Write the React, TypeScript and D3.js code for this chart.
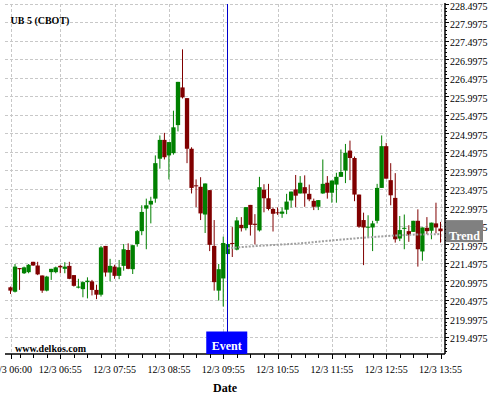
import React from "react";
import * as d3 from "d3";

const title = "UB 5 (CBOT)";
const watermark = "www.delkos.com";
const xAxisTitle = "Date";
const eventLabel = "Event";
const trendLabel = "Trend";

const startTime = "2023-12-03T06:00:00";
const stepMinutes = 5;
const eventTime = "2023-12-03T10:00:00";

const opens = [
  220.83, 220.71, 221.35, 221.21, 221.24, 221.52, 221.42, 221.15, 220.74, 221.24,
  221.24, 221.41, 221.33, 221.41, 221.16, 220.82, 220.78, 220.97, 220.99, 220.76,
  220.63, 221.95, 221.23, 221.39, 221.14, 221.41, 221.84, 221.32, 222.0, 222.35,
  222.96, 223.07, 223.23, 224.31, 224.82, 224.4, 224.46, 225.22, 226.24, 225.95,
  224.58, 223.59, 223.55, 222.8, 223.46, 221.95, 220.74, 221.07, 221.73, 222.03,
  221.85, 222.52, 222.43, 223.06, 222.55, 222.37, 223.47, 223.24, 222.95, 222.86,
  222.82, 222.93, 223.18, 223.48, 223.37, 223.54, 223.36, 223.17, 223.01, 223.37,
  223.66, 223.39, 223.61, 223.82, 223.99, 224.53, 224.33, 223.34, 222.65, 222.45,
  222.45, 222.63, 223.52, 224.65, 223.73, 223.25, 222.15, 222.42, 222.35, 222.33,
  222.63, 221.8, 222.44, 222.36, 222.56, 222.42,
];
const highs = [
  220.85, 221.46, 221.35, 221.39, 221.46, 221.52, 221.52, 221.15, 221.14, 221.33,
  221.39, 221.43, 221.51, 221.52, 221.16, 221.06, 220.99, 221.1, 221.03, 220.9,
  221.95, 221.95, 221.6, 221.44, 221.57, 222.0, 222.02, 221.97, 222.38, 223.05,
  223.23, 223.28, 224.4, 224.94, 225.01, 224.76, 225.61, 226.39, 227.27, 225.95,
  224.62, 223.75, 223.81, 223.64, 223.46, 222.65, 221.46, 222.2, 222.01, 222.46,
  222.73, 222.73, 223.0, 223.06, 222.81, 223.82, 223.62, 223.63, 222.99, 222.99,
  222.99, 223.36, 223.42, 223.87, 223.84, 223.86, 223.61, 223.23, 223.19, 224.29,
  223.84, 223.72, 223.93, 224.56, 224.71, 224.8, 224.37, 223.34, 222.85, 222.78,
  222.63, 223.63, 224.94, 224.74, 224.19, 223.92, 222.76, 222.8, 222.51, 222.63,
  222.94, 222.45, 222.73, 222.58, 223.12, 222.6,
];
const lows = [
  220.65, 220.69, 220.76, 221.19, 221.21, 221.41, 221.16, 220.68, 220.72, 221.03,
  221.21, 221.21, 221.21, 221.05, 220.85, 220.8, 220.56, 220.53, 220.61, 220.51,
  220.58, 221.12, 220.99, 221.06, 221.05, 221.28, 221.32, 221.19, 221.93, 222.24,
  221.86, 222.56, 223.12, 224.04, 224.29, 223.75, 224.42, 225.05, 225.94, 224.19,
  223.37, 223.0, 222.65, 222.3, 221.81, 220.74, 220.47, 220.31, 221.73, 221.65,
  221.83, 222.34, 222.37, 222.23, 221.99, 222.34, 222.86, 222.91, 222.34, 222.79,
  222.71, 222.81, 222.99, 223.0, 223.37, 223.01, 223.16, 222.92, 222.92, 223.36,
  223.23, 223.12, 223.12, 223.82, 223.65, 223.73, 223.16, 222.44, 221.43, 222.18,
  221.81, 222.56, 223.52, 223.77, 223.05, 222.04, 222.08, 221.86, 222.06, 222.33,
  221.39, 221.55, 222.27, 222.13, 222.29, 222.04,
];
const closes = [
  220.74, 221.39, 221.32, 221.37, 221.44, 221.42, 221.18, 220.74, 221.12, 221.33,
  221.37, 221.37, 221.39, 221.06, 220.87, 220.85, 220.97, 221.01, 220.76, 220.63,
  221.91, 221.23, 221.41, 221.14, 221.37, 221.86, 221.33, 221.97, 222.35, 222.87,
  223.05, 223.17, 224.19, 224.82, 224.35, 224.76, 225.16, 226.39, 225.97, 224.58,
  223.52, 223.57, 222.83, 223.64, 221.98, 220.97, 221.32, 222.03, 222.0, 222.01,
  222.64, 222.43, 223.0, 222.52, 222.52, 223.54, 223.24, 222.95, 222.82, 222.84,
  222.88, 223.15, 223.42, 223.31, 223.66, 223.37, 223.21, 223.01, 223.19, 223.63,
  223.39, 223.72, 223.82, 223.95, 224.47, 224.33, 223.34, 222.47, 222.45, 222.47,
  222.56, 223.52, 224.65, 223.77, 223.32, 222.13, 222.38, 222.44, 222.25, 222.63,
  221.86, 222.45, 222.35, 222.58, 222.45, 222.35,
];

const trendIndices = [48, 56, 64, 72, 80, 88, 95];
const trendValues = [221.89, 221.96, 222.02, 222.11, 222.19, 222.25, 222.27];

const yTickValues = [
  219.4975, 219.9975, 220.4975, 220.9975, 221.4975, 221.9975, 222.4975, 222.9975,
  223.4975, 223.9975, 224.4975, 224.9975, 225.4975, 225.9975, 226.4975, 226.9975,
  227.4975, 227.9975, 228.4975,
];
const xTickLabels = [
  "12/3 06:00", "12/3 06:55", "12/3 07:55", "12/3 08:55", "12/3 09:55",
  "12/3 10:55", "12/3 11:55", "12/3 12:55", "12/3 13:55",
];
const xTickTimes = [
  "2023-12-03T06:00:00", "2023-12-03T06:55:00", "2023-12-03T07:55:00",
  "2023-12-03T08:55:00", "2023-12-03T09:55:00", "2023-12-03T10:55:00",
  "2023-12-03T11:55:00", "2023-12-03T12:55:00", "2023-12-03T13:55:00",
];

const W = 500;
const H = 400;
const plotLeft = 5;
const plotRight = 445;
const plotTop = 4;
const plotBottom = 354;
const FONT = "'Liberation Serif', 'Times New Roman', serif";
const UP = "#008000";
const DOWN = "#800000";
const crisp = (v: number) => Math.round(v) + 0.5;

export default function App() {
  const start = new Date(startTime);
  const times = opens.map((_, i) => d3.timeMinute.offset(start, i * stepMinutes));
  const x = d3
    .scaleTime()
    .domain([times[0], times[times.length - 1]])
    .range([10.5, 440.5]);
  const y = d3.scaleLinear().domain([219.025, 228.4975]).range([plotBottom, plotTop]);

  const bw = 4.3;
  const minorY = d3.range(219.0975, 228.4975, 0.1);
  const minorX = d3
    .range(0, opens.length)
    .filter((i) => i % 3 === 2)
    .map((i) => times[i]);

  const trendLine = d3
    .line<number>()
    .x((_, k) => x(times[trendIndices[k]]))
    .y((v) => y(v))
    .curve(d3.curveMonotoneX);

  const ev = x(new Date(eventTime));
  const evX = crisp(ev - 0.5);
  const lastTrendY = y(trendValues[trendValues.length - 1]);

  return (
    <svg width={W} height={H} style={{ display: "block", position: "absolute", left: 0, top: 0 }} fontFamily={FONT}>
      <rect x={0} y={0} width={W} height={H} fill="#fff" />
      {/* grid */}
      {yTickValues.map((v) => (
        <line key={"gy" + v} x1={plotLeft} x2={plotRight} y1={crisp(y(v))} y2={crisp(y(v))} stroke="#c8c8c8" strokeDasharray="3,2" />
      ))}
      {xTickTimes.map((t) => (
        <line key={"gx" + t} x1={crisp(x(new Date(t)))} x2={crisp(x(new Date(t)))} y1={plotTop} y2={plotBottom} stroke="#c8c8c8" strokeDasharray="3,2" />
      ))}
      {/* candles */}
      {opens.map((o, i) => {
        const c = closes[i];
        const col = c >= o ? UP : DOWN;
        const cx = x(times[i]);
        const top = y(Math.max(o, c));
        const bot = y(Math.min(o, c));
        return (
          <g key={"c" + i}>
            <line x1={cx} x2={cx} y1={y(highs[i])} y2={y(lows[i])} stroke={col} strokeWidth={1} />
            <rect x={cx - bw / 2} y={top} width={bw} height={Math.max(1, bot - top)} fill={col} />
          </g>
        );
      })}
      {/* trend */}
      <path d={trendLine(trendValues) || ""} fill="none" stroke="#a0a0a0" strokeWidth={2} strokeDasharray="2,1.5" />
      {/* axes */}
      <line x1={plotRight} x2={plotRight} y1={plotTop - 1} y2={plotBottom} stroke="#000" strokeWidth={1.5} />
      <line x1={plotLeft} x2={plotRight} y1={plotBottom} y2={plotBottom} stroke="#000" strokeWidth={1.5} />
      {minorY.map((v) => (
        <line key={"my" + v} x1={plotRight} x2={plotRight + 2} y1={crisp(y(v))} y2={crisp(y(v))} stroke="#000" />
      ))}
      {yTickValues.map((v) => (
        <g key={"ty" + v}>
          <line x1={plotRight} x2={plotRight + 4} y1={crisp(y(v))} y2={crisp(y(v))} stroke="#000" />
          <text x={plotRight + 5} y={y(v) + 5.5} fontSize={10} fill="#000">
            {v.toFixed(4)}
          </text>
        </g>
      ))}
      {minorX.map((t, i) => (
        <line key={"mx" + i} x1={crisp(x(t))} x2={crisp(x(t))} y1={plotBottom} y2={plotBottom + 4} stroke="#000" />
      ))}
      {xTickTimes.map((t, i) => (
        <g key={"tx" + t}>
          <line x1={crisp(x(new Date(t)))} x2={crisp(x(new Date(t)))} y1={plotBottom} y2={plotBottom + 5} stroke="#000" />
          <text x={x(new Date(t))} y={373} fontSize={10} textAnchor="middle" fill="#000">
            {xTickLabels[i]}
          </text>
        </g>
      ))}
      {/* event */}
      <line x1={evX} x2={evX} y1={plotTop} y2={plotBottom - 22} stroke="#0000cc" strokeWidth={1} />
      <rect x={ev - 21.5} y={plotBottom - 22.5} width={41} height={22.5} fill="#0000ff" />
      <text x={ev - 1} y={plotBottom - 4} fontSize={12} fontWeight="bold" fill="#fff" textAnchor="middle">
        {eventLabel}
      </text>
      {/* trend label */}
      <rect x={plotRight + 1} y={lastTrendY - 14} width={37} height={22} fill="#808080" />
      <text x={plotRight + 19.5} y={lastTrendY + 6} fontSize={12} fontWeight="bold" fill="#fff" textAnchor="middle">
        {trendLabel}
      </text>
      {/* titles */}
      <text x={10.5} y={24} fontSize={10} fontWeight="bold" fill="#000">
        {title}
      </text>
      <text x={15} y={351.5} fontSize={10} fontWeight="bold" fill="#000">
        {watermark}
      </text>
      <text x={225} y={392} fontSize={12} fontWeight="bold" textAnchor="middle" fill="#000">
        {xAxisTitle}
      </text>
    </svg>
  );
}
